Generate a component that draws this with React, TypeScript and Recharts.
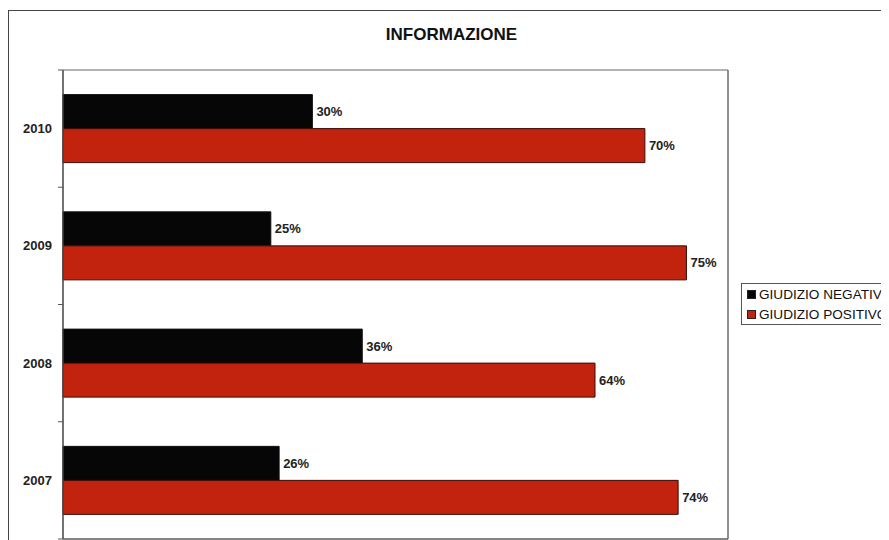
import React from 'react';
import { BarChart, Bar, XAxis, YAxis, CartesianGrid, LabelList, Legend, ReferenceArea } from 'recharts';

const title = 'INFORMAZIONE';
const categories = ['2010', '2009', '2008', '2007'];
const negativo = [30, 25, 36, 26];
const positivo = [70, 75, 64, 74];
const xTicks = [0, 10, 20, 30, 40, 50, 60, 70, 80];
const seriesNames = ['GIUDIZIO NEGATIVO', 'GIUDIZIO POSITIVO'];

const RED = '#C2230F';
const BLACK = '#060606';
const FONT = '"Liberation Sans", Arial, sans-serif';

const data = categories.map((c, i) => ({ anno: c, neg: negativo[i], pos: positivo[i] }));

const YTick = (props: any) => {
  const { x, y, payload, index } = props;
  const off = payload && typeof payload.offset === 'number' ? payload.offset : 0;
  const axisX = x + 11;
  return (
    <g>
      <text x={x} y={y} dy={4.5} textAnchor="end" fontSize={13} fontWeight="bold" fill="#222" fontFamily={FONT}>
        {payload.value}
      </text>
      <line x1={axisX - 5} x2={axisX} y1={y + off} y2={y + off} stroke="#555" />
      {index === 0 && <line x1={axisX - 5} x2={axisX} y1={y - off} y2={y - off} stroke="#555" />}
    </g>
  );
};

const renderLegend = () => (
  <div
    style={{
      border: '1px solid #555',
      background: '#fff',
      padding: '0 0 0 5px',
      fontFamily: FONT,
      fontSize: 13.6,
      color: '#111',
      width: 190,
      boxSizing: 'border-box',
      whiteSpace: 'nowrap',
    }}
  >
    {seriesNames.map((n, i) => (
      <div key={n} style={{ display: 'flex', alignItems: 'center', height: 20 }}>
        <span
          style={{
            display: 'inline-block',
            width: 7,
            height: 7,
            background: i === 0 ? BLACK : RED,
            border: '1px solid #222',
            marginRight: 3,
          }}
        />
        {n}
      </div>
    ))}
  </div>
);

export default function App() {
  return (
    <div style={{ position: 'relative', width: 881, height: 532, overflow: 'hidden', fontFamily: FONT, background: '#fff' }}>
      <style>{'body{overflow:hidden}'}</style>
      <div
        style={{
          position: 'absolute',
          left: 0,
          top: 2,
          width: 2000,
          height: 2000,
          borderTop: '1px solid #444',
          borderLeft: '1px solid #444',
        }}
      />
      <div
        style={{
          position: 'absolute',
          left: 0,
          top: 18,
          width: 887,
          textAlign: 'center',
          fontSize: 17,
          lineHeight: '17px',
          fontWeight: 'bold',
          color: '#111',
        }}
      >
        {title}
      </div>
      <div style={{ position: 'absolute', left: 0, top: 0 }}>
        <BarChart
          width={900}
          height={560}
          data={data}
          layout="vertical"
          margin={{ top: 62, right: 180, bottom: 9, left: 5 }}
          barCategoryGap="21%"
          barGap={0}
        >
          <CartesianGrid horizontal={false} stroke="#777" strokeWidth={1} />
          <ReferenceArea x1={0} x2={80} fill="none" stroke="#666" strokeWidth={1} ifOverflow="visible" />
          <XAxis
            type="number"
            domain={[0, 80]}
            ticks={xTicks}
            interval={0}
            tick={false}
            tickLine={{ stroke: '#555' }}
            axisLine={{ stroke: '#555' }}
            height={20}
          />
          <YAxis
            type="category"
            dataKey="anno"
            width={50}
            tickSize={5}
            tickMargin={6}
            tickLine={false}
            axisLine={{ stroke: '#555' }}
            tick={<YTick />}
            interval={0}
          />
          <Legend
            layout="horizontal"
            verticalAlign="middle"
            align="center"
            wrapperStyle={{ left: 733, top: 275, width: 190 }}
            content={renderLegend}
          />
          <Bar dataKey="neg" name={seriesNames[0]} fill={BLACK} stroke="#111" isAnimationActive={false}>
            <LabelList
              dataKey="neg"
              position="right"
              offset={4}
              formatter={(v: any) => `${v}%`}
              fontSize={13}
              fontWeight="bold"
              fill="#222"
            />
          </Bar>
          <Bar dataKey="pos" name={seriesNames[1]} fill={RED} stroke="#3a0a05" isAnimationActive={false}>
            <LabelList
              dataKey="pos"
              position="right"
              offset={4}
              formatter={(v: any) => `${v}%`}
              fontSize={13}
              fontWeight="bold"
              fill="#222"
            />
          </Bar>
        </BarChart>
      </div>
    </div>
  );
}
